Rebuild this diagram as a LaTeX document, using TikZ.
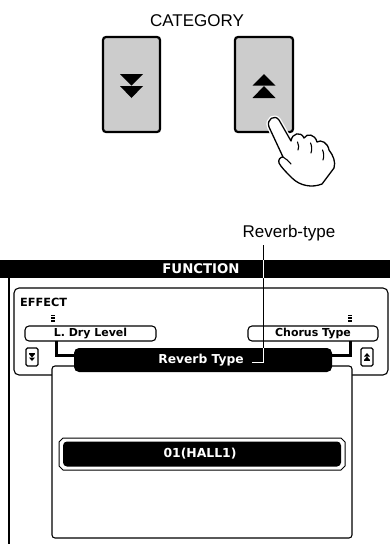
\documentclass[tikz,border=0pt]{standalone}
\usepackage{fontspec}
\setmainfont{Liberation Sans}
\newfontfamily\lcdfont{DejaVu Sans}[BoldFont={DejaVu Sans Bold}]
\begin{document}
\begin{tikzpicture}[x=1pt,y=-1pt,
  keybtn/.style={draw=black,line width=2.2pt,fill=black!20,rounded corners=3pt},
  lcdtext/.style={font=\lcdfont\bfseries\fontsize{#1}{#1}\selectfont,inner sep=0pt},
  pill/.style={draw=black,line width=1.1pt,fill=white,rounded corners=4pt},
  minibtn/.style={draw=black,line width=1.1pt,fill=white,rounded corners=1.5pt},
  linkbar/.style={line width=3pt,line cap=butt},
  leader/.style={line width=0.8pt}]
\useasboundingbox (0,0) rectangle (390,544);

% ---- CATEGORY buttons ----
\node[font=\fontsize{17}{17}\selectfont,inner sep=0pt] (cat) at (197,21) {CATEGORY};
\draw[keybtn] (103,37) rectangle (160,132);
\coordinate (downkey) at (131.5,84.5);
\draw[keybtn] (235,37) rectangle (293,132);
\coordinate (upkey) at (264,84.5);
\fill (120,74) -- (143,74) -- (131.5,85.5) -- cycle;
\fill (120,86) -- (143,86) -- (131.5,98) -- cycle;
\fill (252.5,85.5) -- (275.5,85.5) -- (264,74) -- cycle;
\fill (252.5,98) -- (275.5,98) -- (264,86) -- cycle;

% ---- pressing hand ----
\def\handpath{(283,157) -- (269,127)
  .. controls (266,119) and (275,114) .. (279,120)
  -- (291,141)
  .. controls (292,133) and (301,131) .. (304,138)
  .. controls (307,133) and (315,134) .. (317,142)
  .. controls (321,139) and (328,143) .. (329,150)
  .. controls (333,155) and (336,162) .. (334,168)
  -- (322,184)
  .. controls (312,188) and (300,186) .. (292,178)
  .. controls (286,172) and (281,167) .. (279,163)
  .. controls (278,160) and (280,157) .. (283,157) -- cycle}
\draw[white,line width=4pt,line join=round] \handpath;
\draw[black,line width=1.3pt,fill=white,line join=round] \handpath;
\draw[line width=1.1pt,line cap=round] (297.5,142) .. controls (299,145) and (299,148) .. (298,150);
\draw[line width=1.1pt,line cap=round] (310.5,143) .. controls (312,146) and (312,150) .. (311,153);
\draw[line width=1.1pt,line cap=round] (322.5,150) .. controls (324,153) and (324,157) .. (323,160);
\draw[line width=1.1pt,line cap=round] (283,157) .. controls (286,159) and (289,161) .. (291,164);

% ---- display: FUNCTION header and frame ----
\fill[black] (0,260) rectangle (390,278);
\node[lcdtext=13.3,text=white] (func) at (201,269) {FUNCTION};
\draw[line width=1.4pt] (9,278) -- (9,544);

% EFFECT group
\draw[line width=1.1pt,rounded corners=5pt] (14,288) rectangle (388,375);
\node[lcdtext=11.3,anchor=west] (effect) at (20,302) {EFFECT};

% scroll marks above the neighbour items
\foreach \mx in {53,350}{
  \foreach \my in {314.5,317.3,320.1}{
    \fill (\mx-2,\my) rectangle (\mx+2,\my+1.7);
  }
}

% neighbour item pills
\draw[pill] (25,326) rectangle (156,341);
\node[lcdtext=11] (dry) at (90.5,333.5) {L. Dry Level};
\draw[pill] (248,326) rectangle (378,341);
\node[lcdtext=11] (chorus) at (313,333.5) {Chorus Type};

% small scroll buttons
\draw[minibtn] (26,348) rectangle (38,366);
\fill (29,354) -- (35,354) -- (32,357.5) -- cycle;
\fill (29,357.5) -- (35,357.5) -- (32,361) -- cycle;
\fill (29,353) rectangle (35,353.9);
\draw[minibtn] (361,348) rectangle (373,366);
\fill (364,360) -- (370,360) -- (367,356.5) -- cycle;
\fill (364,356.5) -- (370,356.5) -- (367,353) -- cycle;
\fill (364,360.2) rectangle (370,361.1);

% link bars from neighbour pills to the current item
\draw[linkbar] (56,341) -- (56,355) -- (76,355);
\draw[linkbar] (350,341) -- (350,355) -- (330,355);

% value panel
\draw[line width=1.1pt,fill=white,rounded corners=3pt] (52,366) rectangle (352,538);

% current item bar
\fill[black,rounded corners=5pt] (74,348) rectangle (332,372);
\node[lcdtext=12.3,text=white] (reverb) at (201,360) {Reverb Type};

% value box
\draw[line width=1pt] (63,438) -- (341,438) -- (345,442) -- (345,466) -- (341,470)
  -- (63,470) -- (59,466) -- (59,442) -- cycle;
\fill[black,rounded corners=4pt] (63,441.5) rectangle (341,466.5);
\node[lcdtext=12.4,text=white] (value) at (200,454) {01(HALL1)};

% ---- callout ----
\node[font=\fontsize{17}{17}\selectfont,inner sep=0pt,anchor=base] (rlabel) at (289,237) {Reverb-type};
\coordinate (lbend) at (263,362);
\coordinate (ltop) at (263,245);
\coordinate (lend) at (252,362);
\draw[leader] (ltop) -- (lbend) -- (lend);
\begin{scope}
  \clip (0,260) rectangle (390,278) (74,348) rectangle (332,372);
  \draw[leader,white] (ltop) -- (lbend) -- (lend);
\end{scope}
\end{tikzpicture}
\end{document}
